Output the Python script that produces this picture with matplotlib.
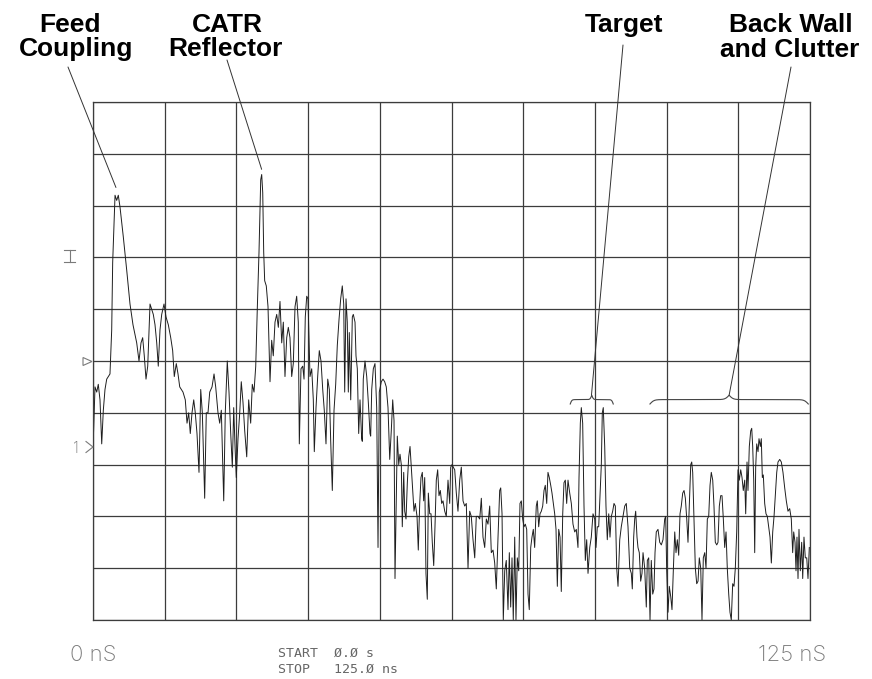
import numpy as np
import matplotlib
matplotlib.use("Agg")
import matplotlib.pyplot as plt
from matplotlib import font_manager
from matplotlib.lines import Line2D
from matplotlib.patches import Polygon

# time-domain trace: time (ns) and level (graticule divisions from bottom)
time_ns = [
    0.00, 0.35, 0.65, 0.92, 1.22, 1.52, 1.80, 2.09, 2.39, 2.67,
    2.96, 3.26, 3.43, 3.66, 3.84, 4.13, 4.41, 4.71, 5.28, 5.88,
    6.45, 6.97, 7.62, 8.02, 8.37, 8.66, 8.94, 9.24, 9.54, 9.94,
    10.23, 10.51, 10.81, 11.11, 11.38, 11.68, 11.98, 12.38, 12.73, 13.13,
    13.55, 13.89, 14.17, 14.52, 14.82, 15.12, 15.69, 16.09, 16.39, 16.68,
    16.96, 17.26, 17.56, 17.83, 18.13, 18.48, 18.78, 19.06, 19.47, 19.75,
    20.05, 20.35, 20.75, 21.10, 21.39, 21.79, 22.09, 22.37, 22.54, 22.79,
    23.06, 23.41, 23.71, 24.01, 24.29, 24.53, 24.76, 24.98, 25.28, 25.58,
    25.85, 26.15, 26.45, 26.80, 27.14, 27.49, 27.77, 28.07, 28.37, 28.64,
    28.94, 29.24, 29.41, 29.59, 29.76, 29.93, 30.21, 30.51, 30.86, 31.15,
    31.43, 31.73, 32.03, 32.31, 32.60, 32.90, 33.18, 33.47, 33.77, 34.05,
    34.34, 34.64, 34.92, 35.22, 35.51, 35.79, 35.97, 36.26, 36.56, 36.79,
    37.01, 37.26, 37.48, 37.66, 37.83, 38.13, 38.41, 38.58, 38.88, 39.17,
    39.45, 39.75, 40.05, 40.32, 40.62, 40.92, 41.20, 41.44, 41.72, 42.02,
    42.31, 42.59, 42.89, 43.18, 43.46, 43.71, 43.88, 44.11, 44.33, 44.51,
    44.68, 44.93, 45.21, 45.38, 45.68, 45.85, 46.08, 46.32, 46.55, 46.84,
    46.95, 47.12, 47.42, 47.72, 48.00, 48.29, 48.41, 48.59, 48.87, 49.16,
    49.46, 49.69, 49.91, 50.26, 50.56, 50.85, 51.13, 51.43, 51.73, 52.00,
    52.25, 52.48, 52.65, 52.82, 53.05, 53.30, 53.52, 53.75, 53.92, 54.17,
    54.34, 54.57, 54.80, 55.04, 55.27, 55.49, 55.74, 55.96, 56.19, 56.49,
    56.71, 56.96, 57.18, 57.41, 57.65, 57.83, 58.05, 58.28, 58.46, 58.70,
    58.93, 59.15, 59.40, 59.62, 59.85, 60.09, 60.32, 60.55, 60.79, 61.02,
    61.32, 61.59, 61.89, 62.19, 62.36, 62.59, 62.81, 63.06, 63.34, 63.63,
    63.93, 64.21, 64.51, 64.80, 65.08, 65.38, 65.67, 65.95, 66.25, 66.55,
    66.82, 67.12, 67.42, 67.70, 67.99, 68.29, 68.57, 68.86, 69.16, 69.44,
    69.74, 70.03, 70.31, 70.61, 70.90, 71.08, 71.31, 71.53, 71.78, 72.05,
    72.35, 72.58, 72.82, 73.05, 73.27, 73.52, 73.74, 73.97, 74.22, 74.44,
    74.67, 74.91, 75.14, 75.37, 75.61, 75.84, 76.06, 76.31, 76.53, 76.76,
    77.00, 77.28, 77.46, 77.70, 77.93, 78.16, 78.40, 78.63, 78.85, 79.10,
    79.32, 79.55, 79.80, 80.02, 80.25, 80.49, 80.72, 80.95, 81.19, 81.42,
    81.64, 81.89, 82.11, 82.34, 82.58, 82.81, 83.11, 83.39, 83.68, 83.98,
    84.26, 84.55, 84.73, 84.96, 85.13, 85.37, 85.60, 85.83, 86.07, 86.30,
    86.60, 86.87, 87.17, 87.47, 87.69, 87.92, 88.16, 88.39, 88.62, 88.79,
    88.96, 89.21, 89.43, 89.66, 89.91, 90.13, 90.36, 90.60, 90.83, 91.06,
    91.30, 91.53, 91.83, 92.10, 92.40, 92.70, 92.97, 93.27, 93.57, 93.85,
    94.02, 94.26, 94.44, 94.61, 94.84, 95.01, 95.24, 95.48, 95.71, 95.89,
    96.18, 96.46, 96.64, 96.88, 97.11, 97.33, 97.58, 97.80, 97.98, 98.20,
    98.50, 98.80, 99.08, 99.37, 99.67, 99.84, 100.02, 100.25, 100.47, 100.72,
    100.94, 101.17, 101.42, 101.64, 101.87, 102.11, 102.34, 102.56, 102.81, 103.04,
    103.27, 103.51, 103.73, 103.96, 104.21, 104.38, 104.55, 104.78, 105.01, 105.25,
    105.48, 105.70, 105.95, 106.17, 106.40, 106.65, 106.87, 107.10, 107.34, 107.57,
    107.79, 108.04, 108.26, 108.49, 108.74, 108.96, 109.19, 109.43, 109.66, 109.89,
    110.13, 110.36, 110.58, 110.83, 111.05, 111.28, 111.52, 111.75, 111.98, 112.22,
    112.45, 112.68, 112.92, 113.15, 113.37, 113.62, 113.79, 114.02, 114.19, 114.42,
    114.66, 114.84, 115.01, 115.19, 115.36, 115.53, 115.71, 115.94, 116.11, 116.34,
    116.51, 116.69, 116.86, 117.10, 117.33, 117.56, 117.80, 118.03, 118.26, 118.50,
    118.73, 118.95, 119.20, 119.42, 119.72, 120.00, 120.29, 120.59, 120.87, 121.16,
    121.46, 121.74, 121.98, 122.16, 122.39, 122.56, 122.73, 122.91, 123.08, 123.31,
    123.55, 123.73, 123.95, 124.18, 124.43, 124.65, 124.88,
]
level_div = [
    3.3, 4.5, 4.4, 4.55, 4.25, 3.4, 4.05, 4.45, 4.65, 4.7,
    4.75, 5.6, 6.9, 7.65, 8.2, 8.1, 8.2, 7.97, 7.4, 6.75,
    6.1, 5.7, 5.35, 5.0, 5.35, 5.45, 5.1, 4.65, 4.9, 6.1,
    6.0, 5.9, 5.7, 5.35, 4.9, 5.6, 5.9, 6.1, 5.85, 5.7,
    5.45, 5.2, 4.7, 4.95, 4.75, 4.5, 4.4, 4.25, 3.8, 4.0,
    3.6, 4.0, 4.25, 4.0, 3.6, 2.85, 4.45, 4.0, 2.35, 4.0,
    4.0, 4.4, 4.5, 4.75, 4.5, 4.0, 3.8, 4.05, 3.35, 2.3,
    4.0, 5.0, 4.4, 3.6, 2.95, 4.1, 3.35, 2.75, 3.5, 4.0,
    4.6, 4.2, 3.65, 3.15, 4.25, 3.8, 4.55, 4.4, 4.9, 6.0,
    7.1, 8.5, 8.6, 8.25, 7.1, 6.55, 6.45, 6.05, 4.6, 5.4,
    5.1, 5.75, 5.9, 5.65, 6.15, 5.35, 5.75, 4.7, 5.45, 5.65,
    5.45, 4.7, 4.95, 6.05, 6.25, 5.75, 3.4, 4.85, 4.9, 4.65,
    5.85, 6.25, 6.2, 5.4, 4.7, 4.85, 4.25, 3.25, 4.1, 4.7,
    5.2, 5.0, 4.45, 4.05, 3.4, 4.65, 4.45, 3.45, 2.5, 4.05,
    4.55, 5.3, 5.8, 6.2, 6.45, 6.1, 4.4, 6.2, 5.75, 4.4,
    5.55, 4.25, 5.85, 5.9, 5.75, 5.1, 4.85, 3.6, 4.25, 3.5,
    3.45, 4.65, 5.0, 4.7, 4.2, 3.6, 3.55, 4.45, 4.85, 4.95,
    4.1, 1.4, 4.4, 4.6, 4.65, 4.6, 4.5, 4.1, 3.1, 3.65,
    4.25, 3.85, 0.8, 2.0, 3.55, 3.0, 3.2, 3.0, 1.8, 2.85,
    2.1, 1.95, 2.65, 3.15, 3.35, 2.95, 2.5, 2.1, 2.25, 2.0,
    1.35, 2.25, 2.75, 2.85, 2.3, 2.75, 0.9, 0.4, 2.45, 2.05,
    2.05, 1.5, 1.05, 1.8, 2.7, 2.9, 2.4, 2.5, 2.25, 2.3,
    2.1, 2.0, 2.7, 2.25, 2.95, 3.0, 2.95, 2.9, 2.45, 2.1,
    2.7, 2.95, 2.3, 2.2, 2.25, 1.0, 2.1, 2.0, 1.55, 1.2,
    2.0, 2.0, 1.95, 2.35, 1.6, 1.4, 1.95, 1.85, 2.2, 1.3,
    1.35, 1.1, 0.6, 1.6, 2.5, 2.55, 2.05, 0.0, 0.95, 1.15,
    0.2, 1.3, 0.25, 1.2, 0.0, 1.6, 0.0, 1.2, 0.95, 2.25,
    2.3, 1.95, 1.8, 1.85, 1.75, 0.5, 0.2, 1.4, 1.6, 1.75,
    1.4, 2.2, 2.3, 1.8, 2.05, 2.1, 2.2, 2.5, 2.6, 2.25,
    2.85, 2.75, 2.6, 2.45, 2.25, 2.05, 1.75, 0.65, 1.75, 1.6,
    0.55, 2.05, 2.65, 2.7, 2.25, 2.7, 2.45, 2.25, 1.85, 1.7,
    1.75, 1.4, 2.75, 3.8, 4.1, 3.8, 2.2, 1.15, 1.55, 0.9,
    1.4, 1.6, 2.05, 1.95, 1.4, 1.8, 1.8, 2.4, 3.0, 4.0,
    4.1, 3.35, 2.2, 1.55, 2.05, 1.6, 2.0, 2.1, 2.25, 2.2,
    1.0, 0.65, 1.55, 1.8, 2.0, 2.2, 2.25, 1.8, 1.0, 0.9,
    0.6, 1.6, 1.95, 2.1, 1.6, 1.4, 1.3, 0.75, 0.9, 1.3,
    1.0, 0.25, 1.15, 1.2, 0.0, 1.15, 0.5, 0.6, 1.3, 1.7,
    1.75, 1.5, 1.45, 1.55, 1.95, 2.0, 0.95, 0.15, 0.65, 0.45,
    0.2, 0.95, 1.7, 1.3, 1.55, 1.25, 2.05, 2.2, 2.45, 2.5,
    2.35, 1.95, 1.5, 2.2, 3.0, 3.05, 2.85, 1.9, 1.0, 0.7,
    0.75, 1.2, 1.0, 0.0, 1.2, 1.3, 1.0, 1.95, 2.0, 2.6,
    2.85, 2.7, 2.2, 1.5, 1.45, 1.5, 2.2, 2.4, 2.4, 1.95,
    1.4, 1.7, 1.0, 0.5, 0.15, 0.0, 0.7, 0.65, 1.0, 1.7,
    2.9, 2.7, 2.9, 2.75, 2.5, 2.7, 2.05, 3.05, 2.5, 3.35,
    3.65, 3.7, 3.35, 2.7, 1.3, 2.95, 3.4, 3.25, 3.5, 3.35,
    3.5, 2.75, 2.8, 2.25, 2.05, 2.0, 1.8, 1.6, 1.1, 1.7,
    2.0, 2.4, 2.85, 3.05, 3.1, 3.05, 2.85, 2.55, 2.3, 2.1,
    2.15, 1.95, 1.3, 1.7, 1.5, 0.95, 1.6, 0.8, 1.75, 0.95,
    1.5, 0.8, 1.6, 1.2, 1.2, 0.8, 1.4,
]
assert len(time_ns) == len(level_div)

# callouts: label lines, where the leader line points (ns, divisions)
labels = [["Feed", "Coupling"], ["CATR", "Reflector"], ["Target"], ["Back Wall", "and Clutter"]]
label_tip_ns = [4.0, 29.4, 86.9, 110.9]
label_tip_div = [8.35, 8.7, 4.34, 4.34]
# braces marking target and clutter spans (ns)
brace_spans = [(83.2, 90.7), (97.1, 124.7)]
brace_base = 4.17

W, H = 872, 679
GRID = "#3c3c3c"
TRACE = "#1e1e1e"
SOFT = "#7a7a7a"

# thin face for the instrument annotations, if one is installed
light_font, light_weight = "DejaVu Sans", "normal"
for f in font_manager.fontManager.ttflist:
    if f.name in ("Roboto", "Open Sans", "Lato", "Inter") and f.weight in (200, 300, "light", "extra light"):
        light_font, light_weight = f.name, f.weight
        break


def fpx(x, y):
    # pixel position on the 872x679 canvas -> figure fraction
    return x / W, 1 - y / H


fig = plt.figure(figsize=(W / 100, H / 100), dpi=100)
fig.patch.set_facecolor("white")
ax = fig.add_axes([93 / W, 59 / H, 717 / W, 518 / H])
ax.set_xlim(0, 125)
ax.set_ylim(0, 10)
ax.set_xticks(np.linspace(0, 125, 11))
ax.set_yticks(np.arange(0, 11))
ax.tick_params(length=0, labelbottom=False, labelleft=False)
ax.grid(True, color=GRID, lw=0.9)
for sp in ax.spines.values():
    sp.set_color(GRID)
    sp.set_linewidth(0.9)

ax.plot(time_ns, level_div, color=TRACE, lw=0.7)


def draw_brace(x0, x1, y0, h, beta):
    half = np.linspace(0, 0.5, 101)
    yh = 1 / (1 + np.exp(-beta * (half - half[0]))) + 1 / (1 + np.exp(-beta * (half - half[-1])))
    yy = np.concatenate([yh, yh[-2::-1]])
    xx = np.linspace(x0, x1, yy.size)
    ax.plot(xx, y0 + (yy - 0.5) * h, color="#444444", lw=0.8, clip_on=False)


draw_brace(*brace_spans[0], brace_base, 0.17, 55)
draw_brace(*brace_spans[1], brace_base, 0.17, 80)

# label texts (line centres / baselines in canvas pixels)
label_pos = [[(70, 32), (76, 56)], [(227, 32), (225, 56)], [(624, 32)], [(791, 32), (790, 57)]]
leader_top = [(68, 67), (227, 60), (623, 45), (791, 67)]
for lines, pos, top, tx, ty in zip(labels, label_pos, leader_top, label_tip_ns, label_tip_div):
    for s, (x, y) in zip(lines, pos):
        fig.text(*fpx(x, y), s, ha="center", va="baseline", fontsize=19,
                 fontweight="bold", family="Liberation Sans", color="black")
    ax.annotate("", xy=(tx, ty), xycoords="data", xytext=fpx(*top),
                textcoords="figure fraction", annotation_clip=False,
                arrowprops=dict(arrowstyle="-", color="#333333", lw=0.7,
                                shrinkA=0, shrinkB=0))

# left side markers
for xs, ys in [((64, 75), (250, 250)), ((64, 75), (262, 262)), ((69.5, 69.5), (250, 262))]:
    fig.add_artist(Line2D([x / W for x in xs], [1 - y / H for y in ys],
                          transform=fig.transFigure, color=SOFT, lw=0.8))
fig.add_artist(Polygon([fpx(83, 357.5), fpx(83, 365.5), fpx(92, 361.5)], closed=True,
                       fill=False, ec=SOFT, lw=0.8, transform=fig.transFigure))
fig.text(*fpx(76, 453), "1", ha="center", va="baseline", fontsize=11, color=SOFT,
         family=light_font, fontweight=light_weight)
fig.add_artist(Line2D([86 / W, 93 / W, 86 / W], [1 - 441.5 / H, 1 - 447 / H, 1 - 452.5 / H],
                      transform=fig.transFigure, color=SOFT, lw=0.8))

# footer
fig.text(*fpx(70, 661), "0 nS", ha="left", va="baseline", fontsize=16,
         family=light_font, fontweight=light_weight, color=SOFT)
fig.text(*fpx(826, 661), "125 nS", ha="right", va="baseline", fontsize=16,
         family=light_font, fontweight=light_weight, color=SOFT)
fig.text(*fpx(278, 657), "START  \u00d8.\u00d8 s", ha="left", va="baseline", fontsize=9.5,
         family="DejaVu Sans Mono", color="#666666")
fig.text(*fpx(278, 673), "STOP   125.\u00d8 ns", ha="left", va="baseline", fontsize=9.5,
         family="DejaVu Sans Mono", color="#666666")

fig.savefig("out.png", dpi=100, facecolor="white")
